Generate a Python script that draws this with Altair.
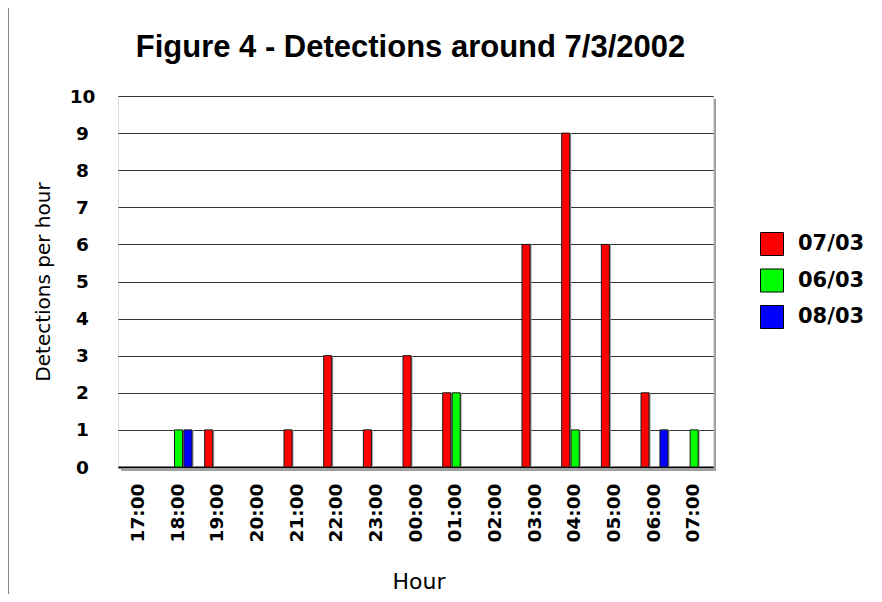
import altair as alt
import pandas as pd

hours = ["17:00", "18:00", "19:00", "20:00", "21:00", "22:00", "23:00", "00:00",
         "01:00", "02:00", "03:00", "04:00", "05:00", "06:00", "07:00"]
series_names = ["07/03", "06/03", "08/03"]
s0703 = [0, 0, 1, 0, 1, 3, 1, 3, 2, 0, 6, 9, 6, 2, 0]
s0603 = [0, 1, 0, 0, 0, 0, 0, 0, 2, 0, 0, 1, 0, 0, 1]
s0803 = [0, 1, 0, 0, 0, 0, 0, 0, 0, 0, 0, 0, 0, 1, 0]
colors = ["#ff0000", "#00ff00", "#0000ff"]
y_ticks = list(range(0, 11))

rows = []
for name, vals in zip(series_names, [s0703, s0603, s0803]):
    for h, v in zip(hours, vals):
        rows.append({"Hour": h, "Series": name, "Count": v})
df = pd.DataFrame(rows)

W, H = 595, 371
FONT = "DejaVu Sans"
P_IN, P_OUT = 0.32, 0.16
step = W / (len(hours) - P_IN + 2 * P_OUT)
bw = step * (1 - P_IN)

x_enc = alt.X(
    "Hour:N", sort=hours,
    scale=alt.Scale(domain=hours, paddingInner=P_IN, paddingOuter=P_OUT),
    axis=alt.Axis(
        title="Hour", labelAngle=-90, labelFont=FONT, labelFontWeight="bold",
        labelFontSize=18.5, labelColor="black", labelPadding=16,
        ticks=False, tickSize=0, domainColor="black", domainWidth=2,
        titleFont=FONT, titleFontSize=22, titleFontWeight="normal",
        titleColor="black", titleX=W / 2 + 3, titleY=121,
        titleBaseline="alphabetic", titleAlign="center",
    ),
)
y_enc = alt.Y(
    "Count:Q",
    scale=alt.Scale(domain=[0, 10]),
    axis=alt.Axis(
        title="Detections per hour", values=y_ticks, labelFont=FONT,
        labelFontWeight="bold", labelFontSize=18.5, labelColor="black",
        labelAlign="center", labelPadding=36, ticks=False, tickSize=0,
        domain=False, grid=True, gridColor="#333333", gridWidth=1,
        titleFont=FONT, titleFontSize=20, titleFontWeight="normal",
        titleColor="black", titleAngle=-90, titleX=-69, titleY=H / 2,
        titleBaseline="alphabetic", titleAlign="center",
    ),
)

base = alt.Chart(df).transform_filter("datum.Count > 0")

shadow = base.mark_bar(color="#9a9a9a").encode(
    x=x_enc,
    xOffset=alt.XOffset("Series:N", sort=series_names,
                        scale=alt.Scale(domain=series_names, paddingInner=0.15,
                                        range=[2.5, bw + 2.5])),
    y=y_enc,
)

bars = base.mark_bar(stroke="#1a1a1a", strokeWidth=1).encode(
    x=x_enc,
    xOffset=alt.XOffset("Series:N", sort=series_names,
                        scale=alt.Scale(domain=series_names, paddingInner=0.15,
                                        range=[1, bw + 1])),
    y=y_enc,
    color=alt.Color(
        "Series:N", sort=series_names,
        scale=alt.Scale(domain=series_names, range=colors),
        legend=alt.Legend(
            title=None, orient="none", legendX=642, legendY=136,
            symbolType="square", symbolSize=529, symbolStrokeColor="black",
            symbolStrokeWidth=1, symbolOpacity=1, labelFont=FONT,
            labelFontWeight="bold", labelFontSize=21, labelColor="black",
            rowPadding=8.5, labelOffset=14, padding=0,
        ),
    ),
)

frame_shadow_r = alt.Chart(df).mark_rule(color="#a0a0a0", strokeWidth=2).encode(
    x=alt.value(W + 2), y=alt.value(3), y2=alt.value(H + 3)
)
frame_shadow_b = alt.Chart(df).mark_rule(color="#a0a0a0", strokeWidth=2).encode(
    x=alt.value(3), x2=alt.value(W + 3), y=alt.value(H + 2.5)
)

border = alt.Chart(df).mark_rule(color="#888888", strokeWidth=1).encode(
    x=alt.value(-109.5), y=alt.value(-96), y2=alt.value(H + 135)
)

chart = alt.layer(border, frame_shadow_r, frame_shadow_b, shadow, bars).resolve_scale(
    xOffset="independent"
).properties(
    width=W, height=H,
    autosize=alt.AutoSizeParams(type="none"),
    padding={"left": 110, "top": 88, "right": 161, "bottom": 127},
    title=alt.TitleParams(
        "Figure 4 - Detections around 7/3/2002", font="Liberation Sans",
        fontSize=31, fontWeight="bold", color="black", anchor="middle",
        frame="group", dx=-5, offset=0, dy=88.5, baseline="alphabetic",
    ),
).configure_view(stroke="black", strokeWidth=1.5).configure(background="white")

chart.save("out.html", embed_options={"renderer": "svg", "actions": False})
